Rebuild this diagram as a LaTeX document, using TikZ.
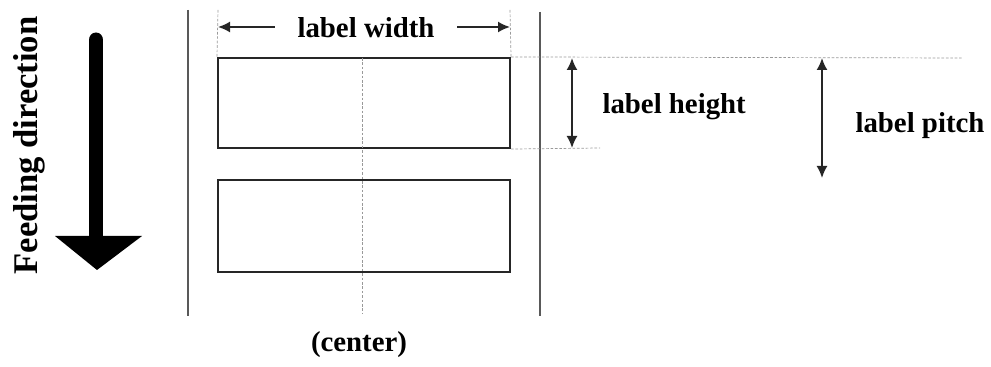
\documentclass[tikz,border=0pt]{standalone}
\usepackage{fontspec}
\setmainfont{Liberation Serif}
\usetikzlibrary{arrows.meta}
\begin{document}
\begin{tikzpicture}[x=0.02cm,y=-0.02cm,semithick,
  lbl/.style={font=\fontsize{16.4}{18}\selectfont\bfseries,inner sep=0pt},
  labelbox/.style={draw=black!85,line width=1.2pt,minimum width=5.84cm,inner sep=0pt},
  border/.style={black!65,line width=1.2pt},
  guide/.style={black!40,thin,dash pattern=on 1.5pt off 1pt},
  dim/.style={black!85,line width=1pt,{Latex[length=0.24cm,width=0.22cm]}-{Latex[length=0.24cm,width=0.22cm]}}]
\useasboundingbox (0,0) rectangle (991,367);
% liner edges and labels
\draw[border] (188,10) coordinate (bl1) -- (188,316) coordinate (bl2);
\draw[border] (540,12) coordinate (br1) -- (540,316) coordinate (br2);
\node[labelbox,minimum height=1.8cm] (lab1) at (364,103) {};
\node[labelbox,minimum height=1.84cm] (lab2) at (364,226) {};
\coordinate (c1) at (362,58);
\coordinate (c2) at (362,313);
\draw[guide] (c1) -- (c2);
% label width
\coordinate (wl) at (218,27);
\coordinate (wr) at (510,27);
\draw[guide] (218,10) -- (lab1.north west);
\draw[guide] (510,10) -- (lab1.north east);
\draw[dim] (wl) -- (wr);
\node[lbl,fill=white,minimum width=3.64cm,minimum height=1.1cm] (width) at (366,27.5) {label width};
% label height and pitch
\draw[guide] (lab1.north east) -- (962,58) coordinate (g1);
\draw[guide] (lab1.south east) -- (600,148) coordinate (g2);
\draw[dim] (572,58) coordinate (h1) -- (572,148) coordinate (h2);
\draw[dim] (822,58) coordinate (p1) -- (822,178) coordinate (p2);
\node[lbl,anchor=base west] (height) at (602,114) {label height};
\node[lbl,anchor=base west] (pitch) at (855,133) {label pitch};
\node[lbl,anchor=base] (center) at (359,352) {(center)};
% feeding direction
\draw[line width=0.3cm,line cap=round] (96,40) coordinate (f1) -- (96,240) coordinate (f2);
\fill (55,236) -- (142,236) -- (97,270) coordinate (f3) -- cycle;
\node[font=\fontsize{19.7}{22}\selectfont\bfseries,inner sep=0pt,rotate=90,anchor=base] (feed) at (37,145.5) {Feeding direction};
\end{tikzpicture}
\end{document}
